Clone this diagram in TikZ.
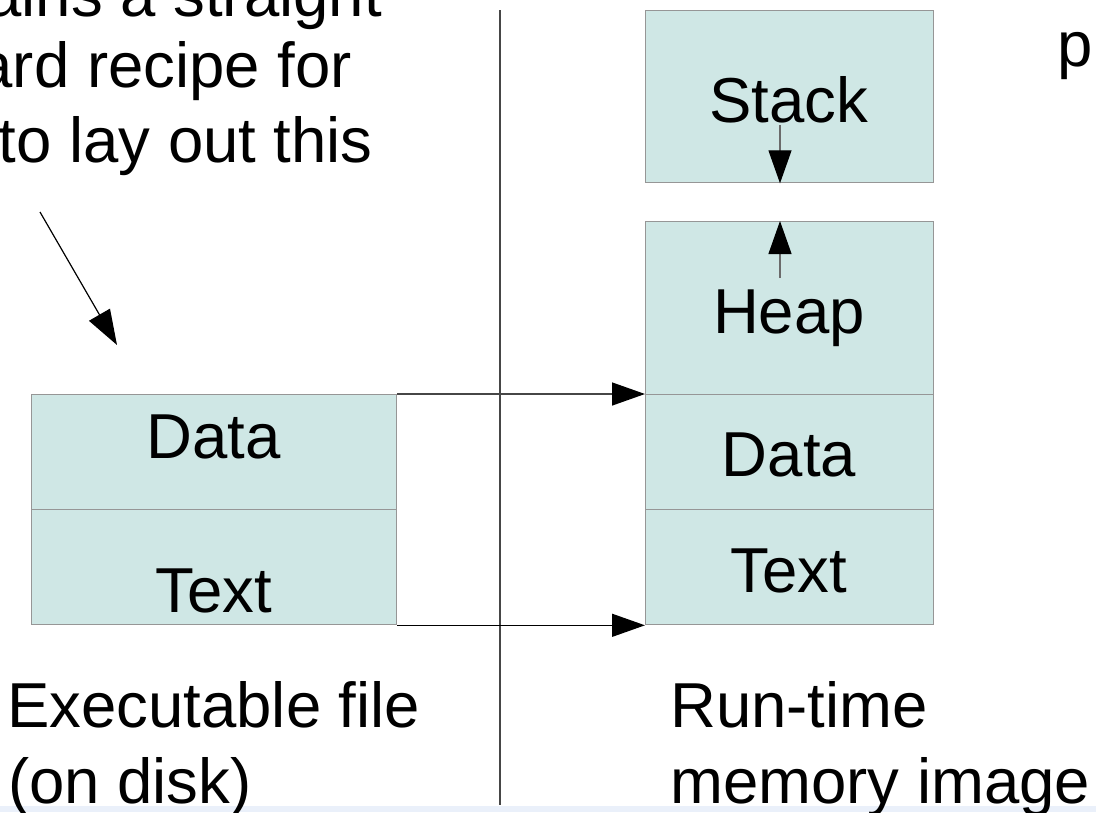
\documentclass[tikz,border=0pt]{standalone}
\usepackage{fontspec}
\setmainfont{Liberation Sans}
\usetikzlibrary{arrows.meta}

\definecolor{segfill}{RGB}{207,231,229}
\definecolor{segline}{RGB}{150,150,150}
\definecolor{wire}{RGB}{70,70,70}
\definecolor{haze}{RGB}{234,240,250}

\tikzset{
  seg/.style={draw=segline, fill=segfill, line width=1.3pt, inner sep=0pt,
              anchor=north west, minimum width=#1},
  tip/.style={-{Triangle[length=33pt,width=23pt,color=black,fill=black]}},
  conn/.style={draw=wire, line width=1.4pt, tip},
  smallconn/.style={draw=wire!80, line width=1.2pt, tip},
  divider/.style={draw=wire, line width=1.6pt},
  big/.style={inner sep=0pt, font=\fontsize{63.5}{76}\selectfont}
}

\begin{document}
\begin{tikzpicture}[x=1pt,y=-1pt]
\useasboundingbox (0,0) rectangle (1096,812);
\fill[haze] (0,806) rectangle (1096,812);

% executable file on disk
\node[seg=365pt, minimum height=115pt] (ldata) at (31,394) {};
\node[seg=365pt, minimum height=115pt] (ltext) at (31,509) {};

% run-time memory image
\node[seg=288pt, minimum height=172pt] (stack) at (645,10) {};
\node[seg=288pt, minimum height=173pt] (heap)  at (645,221) {};
\node[seg=288pt, minimum height=115pt] (rdata) at (645,394) {};
\node[seg=288pt, minimum height=115pt] (rtext) at (645,509) {};

% segment labels
\node[big, anchor=base] (tldata) at (213.5,458) {Data};
\node[big, anchor=base] (tltext) at (213.5,612) {Text};
\node[big, anchor=base] (tstack) at (789,122) {Stack};
\node[big, anchor=base] (theap)  at (789,333) {Heap};
\node[big, anchor=base] (trdata) at (789,476) {Data};
\node[big, anchor=base] (trtext) at (789,592) {Text};

% divider between the two halves
\coordinate (dtop) at (500,10);
\coordinate (dbot) at (500,805);
\draw[divider] (dtop) -- (dbot);

% loading the file into memory
\draw[conn] (ldata.north east) -- (rdata.north west);
\draw[conn, draw=black] (ltext.south east) -- (rtext.south west);

% stack grows down, heap grows up
\coordinate (sa) at (780,125);
\draw[smallconn] (sa) -- (sa |- stack.south);
\coordinate (ha) at (780,278);
\draw[smallconn] (ha) -- (ha |- heap.north);

% pointer from the note to the file layout
\coordinate (ds) at (40,212);
\coordinate (de) at (117,345);
\draw[draw=black, line width=1.2pt,
      -{Triangle[length=35pt,width=24pt]}] (ds) -- (de);

% note text
\node[big, anchor=base east] (n1) at (382,16) {ains a straight};
\node[big, anchor=base east] (n2) at (352,87) {ard recipe for};
\node[big, anchor=base east] (n3) at (373,162) {to lay out this};
\node[big, anchor=base west] (np) at (1057,66) {p};

% captions
\node[big, anchor=base west] (c1) at (7,727) {Executable file};
\node[big, anchor=base west] (c2) at (8,803) {(on disk)};
\node[big, anchor=base west] (c3) at (670,727) {Run-time};
\node[big, anchor=base west] (c4) at (670,803) {memory image};
\end{tikzpicture}
\end{document}
